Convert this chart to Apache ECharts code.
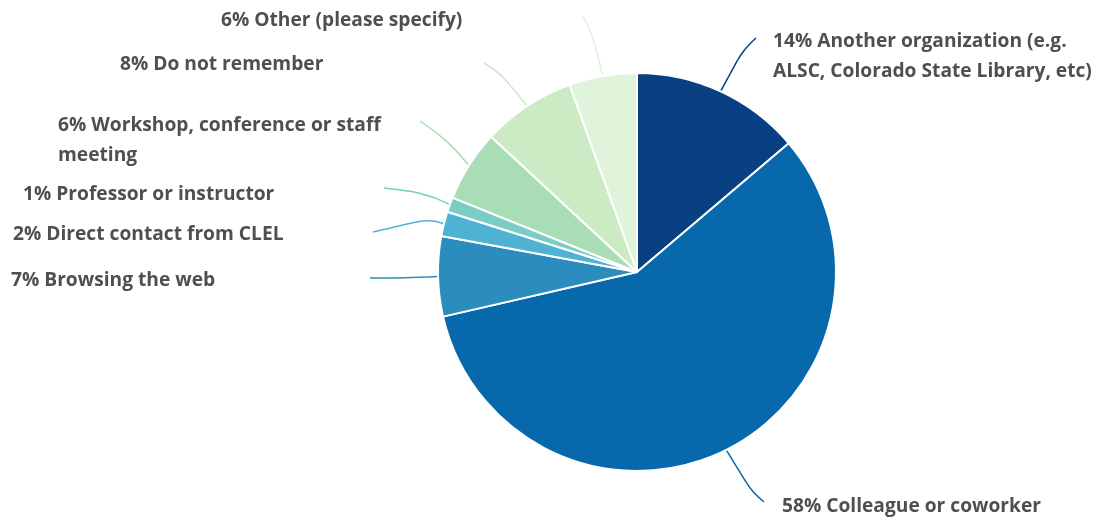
<!DOCTYPE html>
<html>
<head>
<meta charset="utf-8">
<script src="https://cdn.jsdelivr.net/npm/echarts@6/dist/echarts.min.js"></script>
<style>
  html, body { margin: 0; padding: 0; background: #ffffff; }
  #chart { width: 1104px; height: 520px; }
</style>
</head>
<body>
<div id="chart"></div>
<script>
// How respondents heard about the program (share of responses, %)
const categories = [
  'Another organization (e.g.\nALSC, Colorado State Library, etc)',
  'Colleague or coworker',
  'Browsing the web',
  'Direct contact from CLEL',
  'Professor or instructor',
  'Workshop, conference or staff\nmeeting',
  'Do not remember',
  'Other (please specify)'
];
const shares = [13.8, 57.6, 6.5, 2.0, 1.2, 5.8, 7.6, 5.5];
const sliceColors = ['#084081', '#0868ac', '#2b8cbe', '#4eb3d3', '#7bccc4', '#a8ddb5', '#ccebc5', '#e0f3db'];

// Where each label sits and how its leader line bends on the way there
const labelSpots = [
  { x: 773, y: 57, bend: [743, 50], end: [756, 38] },
  { x: 782, y: 507, bend: [752, 492], end: [764, 502] },
  { x: 11, y: 281, bend: [404, 278], end: [370, 278] },
  { x: 13, y: 235, bend: [428, 219], end: [373, 232] },
  { x: 23, y: 194.5, bend: [425, 193], end: [384, 188] },
  { x: 58, y: 141, bend: [445, 138], end: [420, 121] },
  { x: 120, y: 64.5, bend: [500, 73], end: [484, 63] },
  { x: 221, y: 20.5, bend: [593, 36], end: [583, 16] }
];

const chart = echarts.init(document.getElementById('chart'), null, { renderer: 'canvas' });

chart.setOption({
  backgroundColor: '#ffffff',
  animation: false,
  series: [{
    type: 'pie',
    center: [637, 272],
    radius: 199,
    startAngle: 90,
    clockwise: true,
    avoidLabelOverlap: false,
    data: categories.map((name, i) => ({
      name: name,
      value: shares[i],
      itemStyle: { color: sliceColors[i] }
    })),
    itemStyle: { borderColor: '#ffffff', borderWidth: 2 },
    label: {
      show: true,
      position: 'outside',
      formatter: p => Math.round(p.value) + '% ' + p.name,
      fontFamily: 'Open Sans',
      fontWeight: 'bold',
      fontSize: 19.2,
      lineHeight: 30,
      color: '#4f4f4f'
    },
    labelLine: {
      show: true,
      smooth: 0.4,
      lineStyle: { width: 1.5 }
    },
    labelLayout: function (params) {
      const spot = labelSpots[params.dataIndex];
      const start = params.labelLinePoints ? params.labelLinePoints[0] : spot.bend;
      return {
        x: spot.x,
        y: spot.y,
        align: 'left',
        verticalAlign: 'middle',
        labelLinePoints: [start, spot.bend, spot.end]
      };
    },
    emphasis: { disabled: true }
  }]
});
</script>
</body>
</html>
